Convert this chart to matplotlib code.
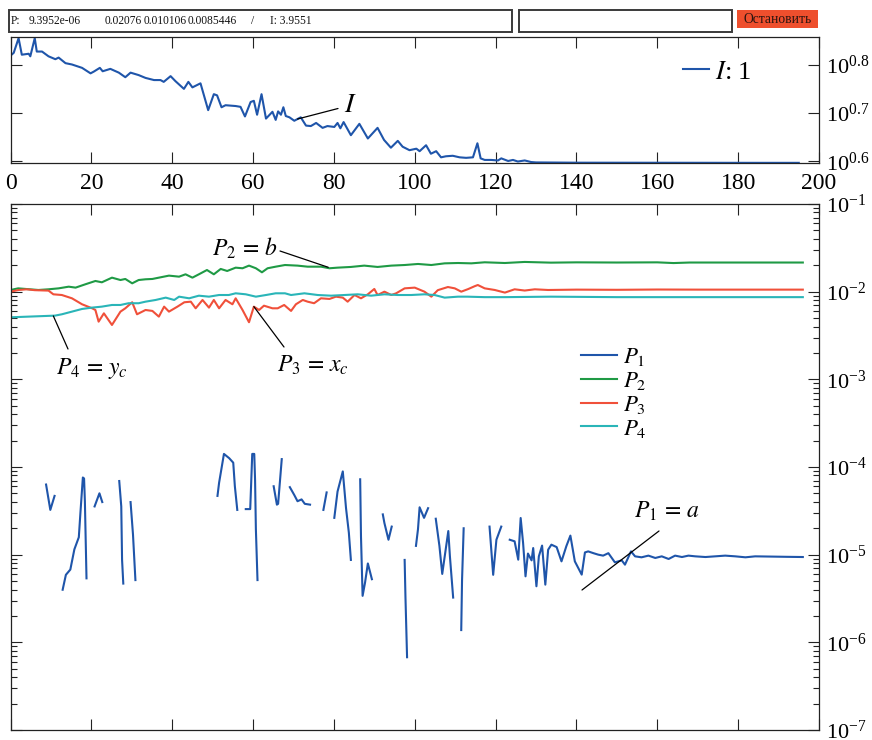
import numpy as np
import matplotlib.pyplot as plt
from matplotlib.patches import Rectangle
from matplotlib.ticker import FixedLocator, FixedFormatter, NullLocator, LogLocator, NullFormatter

plt.rcParams['font.family'] = ['Liberation Serif', 'DejaVu Serif']
plt.rcParams['mathtext.fontset'] = 'stix'

nan = float('nan')

# --- data ---
# top panel: I versus iteration
I_x = [0, 0.8, 2.0, 2.8, 4.5, 4.9, 6.0, 6.5, 7.8, 9.4, 11.1, 11.9, 13.6, 15.2, 17.7, 19.8, 20.6,
       22.1, 22.8, 24.7, 26.8, 28.4, 29.7, 31.7, 33.4, 35.5, 37.1, 37.9, 39.6, 40.8, 42.9, 44.0,
       45.0, 47.0, 48.9, 50.3, 51.1, 52.2, 53.2, 55.7, 56.9, 58.0, 59.4, 60.2, 61.0, 62.1, 63.2,
       64.8, 65.6, 66.2, 66.9, 67.5, 68.1, 69.0, 70.2, 71.8, 73.1, 74.3, 75.6, 77.2, 78.4, 80.1,
       80.9, 81.6, 82.4, 84.2, 86.3, 88.4, 90.8, 92.4, 94.1, 95.8, 97.0, 98.7, 100.4, 101.2,
       102.8, 104.0, 105.3, 106.5, 107.7, 109.4, 111.1, 112.7, 114.4, 115.5, 116.3, 117.3, 118.9,
       120.6, 121.4, 123.1, 124.3, 125.5, 127.2, 128.8, 130.0, 140, 155, 170, 185, 195]
I_val = [6.58, 6.67, 7.15, 6.61, 6.64, 6.56, 7.15, 6.71, 6.71, 6.56, 6.47, 6.52, 6.35, 6.31, 6.21,
         6.05, 6.10, 6.21, 6.11, 6.18, 6.07, 5.94, 6.07, 6.00, 5.92, 5.86, 5.86, 5.81, 5.97, 5.83,
         5.62, 5.81, 5.66, 5.77, 5.08, 5.48, 5.45, 5.15, 5.20, 5.18, 5.16, 4.93, 5.28, 5.31, 4.97,
         5.48, 4.88, 5.04, 4.85, 5.05, 4.97, 5.15, 4.94, 4.91, 4.83, 4.91, 4.72, 4.71, 4.78, 4.67,
         4.71, 4.69, 4.78, 4.66, 4.80, 4.51, 4.76, 4.44, 4.67, 4.41, 4.25, 4.39, 4.27, 4.20, 4.23,
         4.18, 4.30, 4.13, 4.18, 4.06, 4.08, 4.09, 4.06, 4.05, 4.06, 4.34, 4.04, 4.01, 4.01, 4.00,
         4.04, 3.99, 4.01, 3.98, 4.00, 3.97, 3.963, 3.958, 3.957, 3.956, 3.955, 3.955]

# bottom panel: parameters P1..P4
P1_x = [8.8, 9.85, 10.9, nan,
        12.9, 13.7, 14.8, 15.8, 16.9, 17.3, 17.9, 18.2, 18.4, 18.8, nan,
        20.8, 22.0, 22.7, nan,
        26.9, 27.4, 27.6, 27.9, nan,
        29.7, 30.3, 30.9, nan,
        51.2, 51.6, 52.8, 54.1, 55.1, 55.5, 56.1, nan,
        58.2, 59.3, 59.8, 60.3, 60.5, 60.7, 61.1, nan,
        65.1, 65.9, 66.2, 67.1, nan,
        69.1, 70.2, 71.0, 72.0, 72.8, 74.1, nan,
        77.4, 78.2, nan,
        80.1, 80.9, 82.2, 83.0, 83.7, 84.2, nan,
        86.5, 86.7, 87.1, 87.7, 88.4, 89.4, nan,
        92.1, 92.5, 93.5, 94.3, nan,
        97.5, 97.7, 98.1, nan,
        100.3, 100.8, 101.2, 102.3, 103.3, nan,
        105.2, 106.1, 106.8, 107.8, 108.3, 108.7, 109.5, nan,
        111.5, 111.7, 112.1, nan,
        118.5, 119.4, 120.2, 121.4, nan,
        123.5, 124.7, 125.6, 126.2, 126.8, 127.4, 128.0, 128.9, 129.3, 130.1,
        130.7, 131.5, 132.3, 133.0, 133.8, 135.1, 136.3, 137.5, 138.5, 139.6,
        141.3, 142.1, 142.9, 144.2, 145.4, 146.6, 147.9, 149.5, 151.2, 152.0,
        153.5, 154.5, 156.1, 157.8, 159.5, 161.1, 162.8, 164.4, 166.1, 167.7,
        169.4, 171.9, 174.3, 176.8, 179.3, 181.8, 184.2, 188.0, 192.0, 196.0]
P1_val = [6.31e-5, 3.24e-5, 4.68e-5, nan,
          3.98e-6, 5.89e-6, 6.76e-6, 1.15e-5, 1.58e-5, 3.02e-5, 7.59e-5, 7.40e-5, 4.07e-5, 5.37e-6, nan,
          3.55e-5, 5.01e-5, 3.98e-5, nan,
          6.92e-5, 3.55e-5, 8.71e-6, 4.68e-6, nan,
          3.98e-5, 1.70e-5, 5.13e-6, nan,
          4.68e-5, 6.61e-5, 1.41e-4, 1.26e-4, 1.12e-4, 6.03e-5, 3.24e-5, nan,
          3.31e-5, 3.31e-5, 1.41e-4, 1.41e-4, 7.08e-5, 1.95e-5, 5.13e-6, nan,
          6.03e-5, 3.72e-5, 3.80e-5, 1.23e-4, nan,
          5.89e-5, 4.79e-5, 4.07e-5, 4.27e-5, 3.80e-5, 3.72e-5, nan,
          3.24e-5, 5.13e-5, nan,
          2.63e-5, 5.25e-5, 8.91e-5, 3.39e-5, 1.78e-5, 8.71e-6, nan,
          7.24e-5, 1.62e-5, 3.39e-6, 4.79e-6, 7.94e-6, 5.25e-6, nan,
          2.88e-5, 2.29e-5, 1.48e-5, 2.09e-5, nan,
          8.71e-6, 3.31e-6, 6.76e-7, nan,
          1.26e-5, 1.95e-5, 3.47e-5, 2.63e-5, 3.39e-5, nan,
          2.57e-5, 1.26e-5, 6.03e-6, 1.29e-5, 1.86e-5, 9.55e-6, 3.24e-6, nan,
          1.38e-6, 5.13e-6, 2.00e-5, nan,
          2.09e-5, 5.89e-6, 1.48e-5, 2.09e-5, nan,
          1.48e-5, 1.42e-5, 8.77e-6, 2.62e-5, 1.36e-5, 5.66e-6, 1.03e-5, 8.61e-6, 1.19e-5, 4.36e-6,
          9.57e-6, 1.27e-5, 4.55e-6, 1.14e-5, 1.30e-5, 1.22e-5, 8.39e-6, 1.25e-5, 1.65e-5, 8.39e-6,
          5.92e-6, 1.06e-5, 1.09e-5, 1.04e-5, 1.00e-5, 9.75e-6, 1.04e-5, 8.18e-6, 8.61e-6, 7.69e-6,
          1.09e-5, 9.57e-6, 9.33e-6, 9.75e-6, 9.17e-6, 9.57e-6, 8.93e-6, 9.75e-6, 9.40e-6, 9.75e-6,
          9.57e-6, 9.40e-6, 9.57e-6, 9.75e-6, 9.57e-6, 9.33e-6, 9.57e-6, 9.50e-6, 9.45e-6, 9.40e-6]

P2_x = [0, 1.9, 6.9, 9.4, 11.9, 14.4, 16.1, 18.5, 21.0, 22.6, 25.1, 27.2, 28.4, 30.1, 31.7,
        33.4, 35.1, 36.7, 39.2, 41.7, 43.3, 45.0, 46.6, 48.6, 50.3, 52.0, 53.6, 55.7, 57.4, 59.0,
        60.7, 62.2, 63.6, 65.6, 67.9, 71.0, 73.5, 76.8, 78.9, 80.9, 84.2, 87.5, 90.8, 94.2, 97.5,
        100.8, 104.1, 107.4, 110.7, 114.0, 117.3, 122.3, 127.2, 133.7, 140, 150, 160, 164, 168,
        175, 185, 196]
P2_val = [0.01045, 0.01091, 0.01045, 0.01064, 0.01091, 0.01140, 0.01112, 0.01213, 0.01324, 0.01279,
          0.01445, 0.01358, 0.01396, 0.01245, 0.01358, 0.01384, 0.01396, 0.01445, 0.01524, 0.01483,
          0.01578, 0.01445, 0.01578, 0.01766, 0.01578, 0.01816, 0.01722, 0.01879, 0.01849, 0.01982,
          0.01849, 0.01663, 0.01849, 0.01928, 0.02014, 0.01982, 0.01928, 0.01928, 0.01849, 0.01879,
          0.01914, 0.01982, 0.01914, 0.01982, 0.02014, 0.02070, 0.02014, 0.02104, 0.02123, 0.02104,
          0.02163, 0.02123, 0.02183, 0.02143, 0.02160, 0.02150, 0.02160, 0.02120, 0.02150, 0.02150,
          0.02150, 0.02150]

P3_x = [0, 2.0, 4.0, 6.0, 9.4, 10.6, 12.7, 15.2, 17.7, 20.2, 21.0, 21.8, 23.1, 25.1, 27.2,
        28.4, 30.1, 31.3, 33.4, 35.1, 36.7, 38.0, 39.2, 41.3, 43.0, 44.6, 45.8, 47.5, 49.1, 50.3,
        51.6, 53.2, 54.9, 55.7, 57.4, 59.0, 60.2, 61.5, 62.7, 64.8, 66.1, 67.7, 69.4, 70.6, 72.3,
        73.5, 75.1, 76.8, 78.9, 80.5, 82.2, 83.4, 85.1, 86.7, 88.4, 90.0, 90.8, 92.5, 94.2, 95.4,
        97.5, 100.0, 102.4, 104.1, 105.7, 108.2, 109.9, 111.5, 113.2, 114.8, 115.6, 117.3, 119.8,
        122.3, 124.7, 127.2, 129.7, 133.0, 140, 150, 160, 170, 180, 196]
P3_val = [0.01000, 0.01045, 0.01064, 0.01040, 0.01028, 0.00933, 0.00916, 0.00840, 0.00718, 0.00646,
          0.00618, 0.00455, 0.00566, 0.00417, 0.00592, 0.00646, 0.00757, 0.00552, 0.00618, 0.00603,
          0.00519, 0.00675, 0.00592, 0.00675, 0.00757, 0.00769, 0.00646, 0.00804, 0.00658, 0.00804,
          0.00646, 0.00804, 0.00718, 0.00840, 0.00618, 0.00448, 0.00675, 0.00618, 0.00692, 0.00646,
          0.00646, 0.00705, 0.00603, 0.00718, 0.00804, 0.00769, 0.00738, 0.00840, 0.00826, 0.00877,
          0.00855, 0.00769, 0.00916, 0.00840, 0.00933, 0.01074, 0.00916, 0.01000, 0.00916, 0.00958,
          0.01091, 0.01112, 0.01000, 0.00877, 0.01040, 0.01130, 0.01091, 0.01000, 0.01070, 0.01153,
          0.01191, 0.01091, 0.01045, 0.00976, 0.01064, 0.01030, 0.01064, 0.01045, 0.01055, 0.01050,
          0.01058, 0.01055, 0.01055, 0.01055]

P4_x = [0, 11.0, 12.7, 15.2, 17.7, 20.2, 22.6, 25.1, 27.2, 29.2, 31.7, 33.4, 35.9, 38.4, 40.5,
        41.7, 44.2, 46.6, 49.1, 51.6, 54.0, 55.7, 58.2, 60.7, 63.2, 65.6, 67.9, 69.4, 72.7, 76.0,
        79.3, 82.6, 85.9, 89.2, 92.5, 95.8, 99.1, 102.4, 104.9, 107.4, 110.7, 113.0, 117.3, 122.3,
        133.7, 150, 170, 196]
P4_val = [0.00510, 0.00533, 0.00552, 0.00592, 0.00635, 0.00658, 0.00675, 0.00705, 0.00705, 0.00738,
          0.00738, 0.00769, 0.00804, 0.00855, 0.00804, 0.00877, 0.00840, 0.00900, 0.00877, 0.00916,
          0.00916, 0.00958, 0.00933, 0.00877, 0.00916, 0.00958, 0.00958, 0.00916, 0.00958, 0.00916,
          0.00900, 0.00916, 0.00933, 0.00900, 0.00933, 0.00916, 0.00916, 0.00933, 0.00916, 0.00855,
          0.00877, 0.00877, 0.00866, 0.00866, 0.00877, 0.00866, 0.00866, 0.00866]

status_parts = ['P:', '9.3952e-06', '0.02076', '0.010106', '0.0085446', '/', 'I: 3.9551']
button_label = 'Остановить'

BLUE = '#1f55aa'
GREEN = '#1f9a45'
RED = '#f0503a'
CYAN = '#2ab5b8'

W, H = 872, 740


def ref(px, py):
    """pixel position in the reference -> figure fraction"""
    return px / W, 1 - py / H


fig = plt.figure(figsize=(W / 100, H / 100), dpi=100)

# header: status box, empty box, button
fig.add_artist(Rectangle(ref(9, 32), 503 / W, 22 / H, transform=fig.transFigure,
                         fill=False, ec='#3a3a3a', lw=1.4))
fig.add_artist(Rectangle(ref(518.5, 32), 213.5 / W, 22 / H, transform=fig.transFigure,
                         fill=False, ec='#3a3a3a', lw=1.4))
fig.add_artist(Rectangle(ref(737, 27.5), 81 / W, 17.5 / H, transform=fig.transFigure,
                         fc='#ee4f2d', ec='none'))
for px, s in zip([11, 29, 105, 144, 188, 251, 270], status_parts):
    fig.text(*ref(px, 21.5), s, fontsize=8.3, va='center', ha='left', color='#111111')
fig.text(*ref(777.5, 19.5), button_label, fontsize=9.8, color='#2a1410', va='center', ha='center')

left, right = 10.5, 819
ax_top = fig.add_axes([left / W, 1 - 163 / H, (right - left) / W, 126 / H])
ax_bot = fig.add_axes([left / W, 1 - 730 / H, (right - left) / W, 526 / H])

# --- top panel ---
ax_top.plot(I_x, I_val, color=BLUE, lw=1.5, label=r'$I$: 1')
ax_top.set_yscale('log')
ax_top.set_xlim(0, 200)
ax_top.set_ylim(3.952, 7.19)
ax_top.set_xticks(np.arange(0, 201, 20))
ax_top.yaxis.set_major_locator(FixedLocator([10 ** 0.6, 10 ** 0.7, 10 ** 0.8]))
ax_top.yaxis.set_major_formatter(FixedFormatter([r'$\mathdefault{10^{0.6}}$',
                                                 r'$\mathdefault{10^{0.7}}$',
                                                 r'$\mathdefault{10^{0.8}}$']))
ax_top.yaxis.set_minor_locator(NullLocator())
ax_top.yaxis.set_minor_formatter(NullFormatter())
ax_top.tick_params(axis='x', labelsize=17, pad=7)
ax_top.tick_params(axis='y', labelsize=16, pad=5)
ax_top.legend(loc='center left', bbox_to_anchor=((683 - left) / (right - left), (163 - 72) / 126),
              frameon=False, fontsize=19, handlelength=1.0, handletextpad=0.2,
              borderpad=0, borderaxespad=0)
ax_top.annotate('', xy=(71.0, 4.87), xycoords='data', xytext=ref(338, 108.5),
                textcoords='figure fraction',
                arrowprops=dict(arrowstyle='-', color='black', lw=0.9, shrinkA=0, shrinkB=0))
fig.text(*ref(350, 106), r'$I$', fontsize=20, ha='center', va='center')

# --- bottom panel ---
ax_bot.plot(P1_x, P1_val, color=BLUE, lw=1.5, label=r'$P_1$')
ax_bot.plot(P2_x, P2_val, color=GREEN, lw=1.5, label=r'$P_2$')
ax_bot.plot(P3_x, P3_val, color=RED, lw=1.5, label=r'$P_3$')
ax_bot.plot(P4_x, P4_val, color=CYAN, lw=1.5, label=r'$P_4$')
ax_bot.set_yscale('log')
ax_bot.set_xlim(0, 200)
ax_bot.set_ylim(1e-7, 1e-1)
ax_bot.set_xticks(np.arange(0, 201, 20))
ax_bot.yaxis.set_major_locator(LogLocator(base=10, numticks=12))
ax_bot.yaxis.set_minor_locator(LogLocator(base=10, subs=np.arange(2, 10), numticks=12))
ax_bot.yaxis.set_minor_formatter(NullFormatter())
ax_bot.tick_params(axis='x', labelbottom=False)
ax_bot.tick_params(axis='y', labelsize=16, pad=5)
ax_bot.legend(loc='upper left', bbox_to_anchor=((581 - left) / (right - left), (730 - 346) / 526),
              frameon=False, fontsize=16.5, handlelength=1.55, handletextpad=0.3,
              labelspacing=0.08, borderpad=0, borderaxespad=0)

line_kw = dict(arrowstyle='-', color='black', lw=0.9, shrinkA=0, shrinkB=0)
ax_bot.annotate('', xy=(78.6, 0.01897), xytext=ref(280, 251), textcoords='figure fraction',
                arrowprops=line_kw)
fig.text(*ref(212, 256), r'$P_2\,=\,b$', fontsize=17, ha='left', va='baseline')
ax_bot.annotate('', xy=(10.6, 0.00528), xytext=ref(68, 349), textcoords='figure fraction',
                arrowprops=line_kw)
fig.text(*ref(56, 374), r'$P_4\,=\,y_c$', fontsize=17, ha='left', va='baseline')
ax_bot.annotate('', xy=(60.2, 0.00675), xytext=ref(284, 347), textcoords='figure fraction',
                arrowprops=line_kw)
fig.text(*ref(277, 372), r'$P_3\,=\,x_c$', fontsize=17, ha='left', va='baseline')
ax_bot.annotate('', xy=ref(582, 590), xycoords='figure fraction', xytext=ref(659, 531),
                textcoords='figure fraction', arrowprops=line_kw)
fig.text(*ref(634, 518), r'$P_1\,=\,a$', fontsize=17, ha='left', va='baseline')

for ax in (ax_top, ax_bot):
    ax.tick_params(which='both', direction='in', top=True, bottom=True, left=True, right=True,
                   labelleft=False, labelright=True, width=0.8, color='#222222')
    ax.tick_params(which='major', length=8)
    ax.tick_params(which='minor', length=4.5)
    for sp in ax.spines.values():
        sp.set_linewidth(0.9)
        sp.set_color('#222222')

fig.savefig('out.png', dpi=100)
